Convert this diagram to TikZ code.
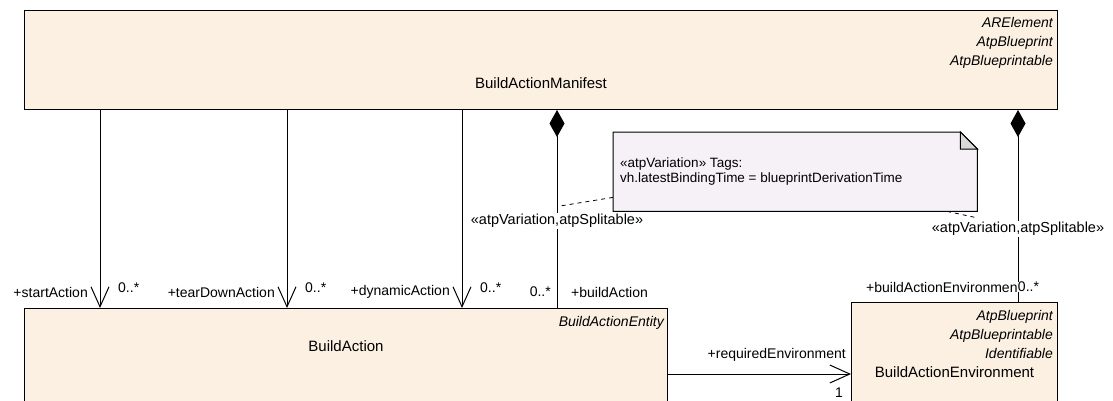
\documentclass[tikz,border=0pt]{standalone}
\usepackage{fontspec}
\setmainfont{Liberation Sans}
\usetikzlibrary{
    arrows.meta,
    positioning,
    calc
}
\definecolor{ClassCream}{RGB}{251,240,226}
\definecolor{NoteLilac}{RGB}{246,241,246}
\definecolor{FoldGrey}{RGB}{217,217,217}

\begin{document}
\begin{tikzpicture}[
    x=1pt, y=-1pt,
    font=\fontsize{14}{16}\selectfont,
    classbox/.style={draw, line width=1pt, fill=ClassCream, anchor=north west, inner sep=0pt},
    stereotype/.style={inner sep=0pt, text height=10.5pt, text depth=3pt, font=\fontsize{14}{16}\selectfont\itshape},
    classname/.style={inner sep=0pt, font=\fontsize{15}{17}\selectfont},
    endlabel/.style={inner sep=0pt},
    navigable/.style={line width=1pt, -{Straight Barb[length=20pt,width=18pt]}},
    composite/.style={line width=1pt, {Diamond[length=27pt,width=15pt]}-},
    notelink/.style={line width=0.8pt, dash pattern=on 4pt off 4pt}
]

\useasboundingbox (0,0) rectangle (1113,400);
\clip (0,0) rectangle (1113,400);

% classes
\node[classbox, minimum width=1033pt, minimum height=99pt] (manifest) at (24,10) {};
\node[stereotype, below left=6.5pt and 5pt of manifest.north east] (manifestAR) {ARElement};
\node[stereotype, below left=5pt and 0pt of manifestAR.south east] (manifestBp) {AtpBlueprint};
\node[stereotype, below left=5pt and 0pt of manifestBp.south east] (manifestBpl) {AtpBlueprintable};
\node[classname] (manifestName) at ($(manifest.north)+(0,73)$) {BuildActionManifest};

\node[classbox, minimum width=643pt, minimum height=110pt] (action) at (24,308) {};
\node[stereotype, below left=7.5pt and 4pt of action.north east] (actionEntity) {BuildActionEntity};
\node[classname] (actionName) at ($(action.north)+(0,38)$) {BuildAction};

\node[classbox, minimum width=206pt, minimum height=116pt] (environment) at (851,302) {};
\node[stereotype, below left=7.5pt and 5pt of environment.north east] (envBp) {AtpBlueprint};
\node[stereotype, below left=5pt and 0pt of envBp.south east] (envBpl) {AtpBlueprintable};
\node[stereotype, below left=5pt and 0pt of envBpl.south east] (envId) {Identifiable};
\node[classname] (envName) at ($(environment.north)+(0,70)$) {BuildActionEnvironment};

% note
\node[minimum width=364pt, minimum height=79pt, anchor=north west, inner sep=0pt] (note) at (613,132) {};
\draw[line width=1pt, fill=NoteLilac] (note.north west) -- ($(note.north east)+(-17,0)$)
    -- ($(note.north east)+(0,17)$) -- (note.south east) -- (note.south west) -- cycle;
\draw[line width=1pt, fill=FoldGrey] ($(note.north east)+(-17,0)$) -- ($(note.north east)+(-17,17)$)
    -- ($(note.north east)+(0,17)$) -- cycle;
\node[anchor=north west, align=left, inner sep=0pt, font=\fontsize{13.5}{15}\selectfont] (noteText)
    at ($(note.north west)+(7,26)$) {«atpVariation» Tags:\\vh.latestBindingTime = blueprintDerivationTime};

% connectors
\coordinate (xStart) at (100,0);
\coordinate (xTearDown) at (287,0);
\coordinate (xDynamic) at (462,0);
\coordinate (xBuild) at (557,0);
\coordinate (xEnv) at (1018,0);
\coordinate (yReq) at (0,374);

\draw[navigable] (manifest.south -| xStart) -- (action.north -| xStart);
\draw[navigable] (manifest.south -| xTearDown) -- (action.north -| xTearDown);
\draw[navigable] (manifest.south -| xDynamic) -- (action.north -| xDynamic);
\draw[composite] (manifest.south -| xBuild) -- (action.north -| xBuild);
\draw[composite] (manifest.south -| xEnv) -- (environment.north -| xEnv);
\draw[navigable] (action.east |- yReq) -- (environment.west |- yReq);

% end labels
\node[endlabel, anchor=east] (startRole) at ($(action.north -| xStart)+(-12,-16)$) {+startAction};
\node[endlabel, anchor=west] (startMult) at ($(action.north -| xStart)+(18,-20)$) {0..*};
\node[endlabel, anchor=east] (tearDownRole) at ($(action.north -| xTearDown)+(-12,-16)$) {+tearDownAction};
\node[endlabel, anchor=west] (tearDownMult) at ($(action.north -| xTearDown)+(18,-20)$) {0..*};
\node[endlabel, anchor=east] (dynamicRole) at ($(action.north -| xDynamic)+(-12,-16)$) {+dynamicAction};
\node[endlabel, anchor=west] (dynamicMult) at ($(action.north -| xDynamic)+(18,-20)$) {0..*};
\node[endlabel, anchor=east] (buildMult) at ($(action.north -| xBuild)+(-6,-16)$) {0..*};
\node[endlabel, anchor=west] (buildRole) at ($(action.north -| xBuild)+(14,-16)$) {+buildAction};
\node[endlabel, anchor=west, fill=white] (envRole) at ($(environment.north -| xEnv)+(-152,-15)$) {+buildActionEnvironmen};
\node[endlabel, anchor=west, fill=white] (envMult) at (envRole.east) {0..*};
\node[endlabel, anchor=east] (reqRole) at ($(environment.west |- yReq)+(-5,-19)$) {+requiredEnvironment};
\node[endlabel, anchor=east] (reqMult) at ($(environment.west |- yReq)+(-8,19)$) {1};

\node[endlabel, fill=white, inner sep=1pt, font=\fontsize{14.5}{16}\selectfont] (buildStereo)
    at ($(manifest.south -| xBuild)+(0,111)$) {«atpVariation,atpSplitable»};
\node[endlabel, fill=white, inner sep=1pt, font=\fontsize{14.5}{16}\selectfont] (envStereo)
    at ($(manifest.south -| xEnv)+(0,119)$) {«atpVariation,atpSplitable»};

% note links
\coordinate (buildLink) at (560,206);
\coordinate (envLink) at (978,218);
\draw[notelink] ($(note.south west)+(0,-14)$) -- (buildLink);
\draw[notelink] ($(note.south west)+(334,0)$) -- (envLink);

\end{tikzpicture}
\end{document}
